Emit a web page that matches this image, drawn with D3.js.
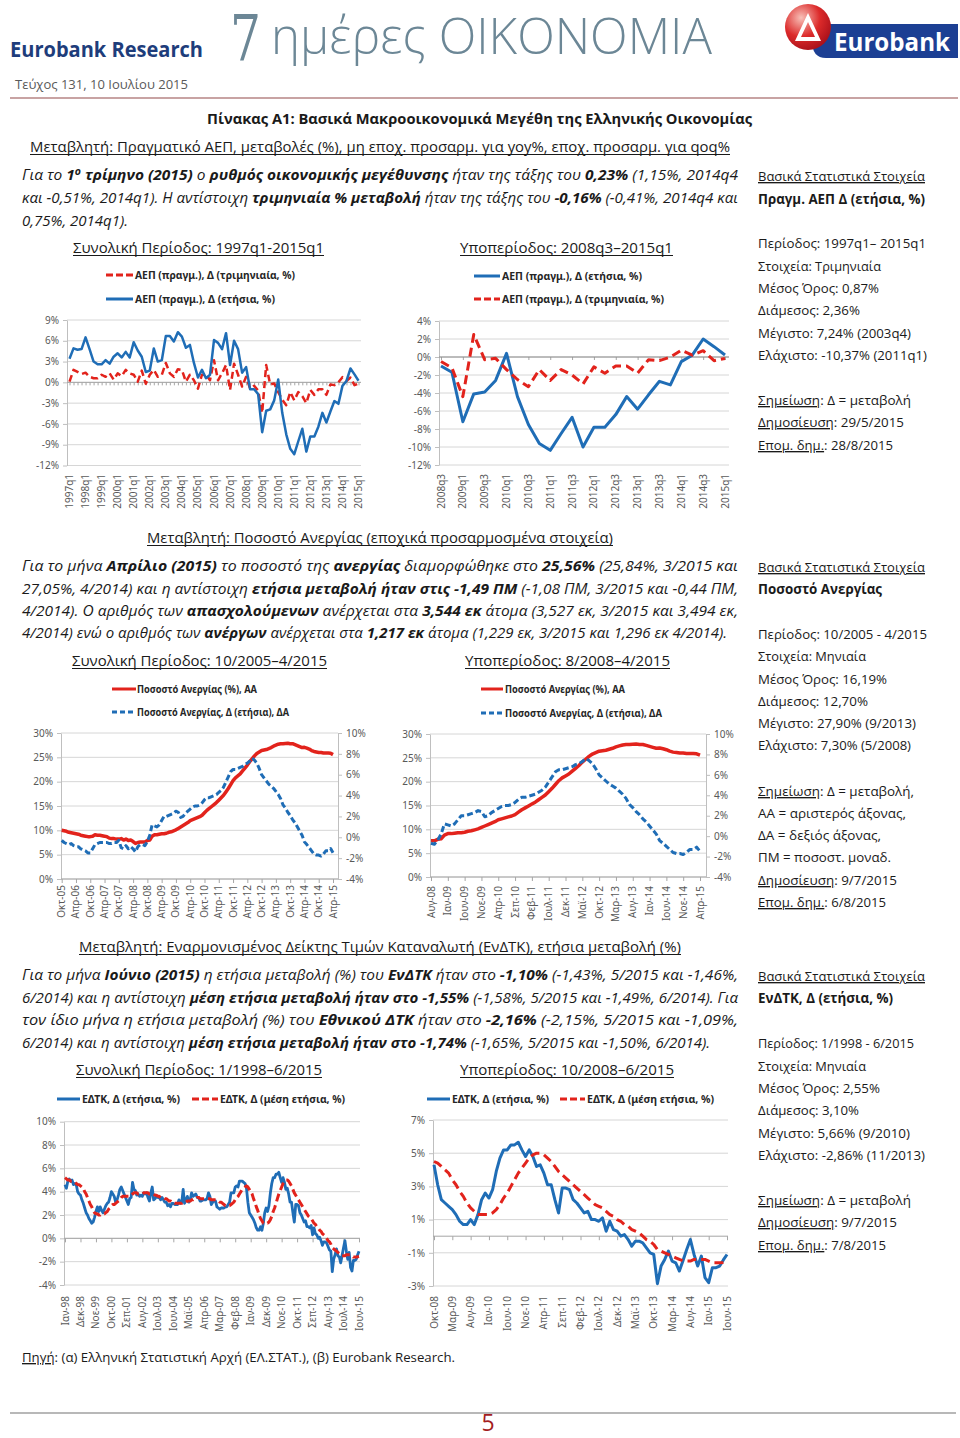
<!DOCTYPE html>
<html><head><meta charset="utf-8">
<script src="https://cdn.jsdelivr.net/npm/d3@7"></script>
<style>body{margin:0;background:#fff}svg{display:block}</style>
</head><body>
<script>
// ================= DATA =================
// Real GDP, 1997q1 - 2015q1
const gdpYoY = [
  3.4, 4.9, 4.7, 4.8,   6.5, 4.8, 3.0, 2.6,   2.6, 3.2, 2.7, 3.7,   4.2, 3.6, 4.4, 3.6,
  5.8, 4.6, 3.7, 1.5,   1.7, 4.9, 3.0, 3.2,   6.7, 6.7, 5.9, 7.24,  6.6, 5.0, 5.4, 2.8,
  0.7, 1.8, 0.6, 1.1,   6.1, 5.7, 4.8, 7.1,   2.5, 6.0, 4.8, 1.4,   2.2, -1.0, -1.0, -1.7,
  -7.2, -4.1, -3.9, -2.6,  0.4, -4.4, -7.5, -9.6,  -10.37, -8.5, -6.7, -10.0,
  -7.8, -7.8, -6.4, -4.4,  -5.8, -4.2, -2.7, -3.1,  -0.51, 0.2, 2.0, 1.15,  0.23
];
const gdpQoQ = [
  0.1, 1.8, 1.5, 1.2,   1.4, 0.8, 0.6, 0.6,   1.1, 0.8, 1.3, 0.4,   1.3, 0.9, 1.8, 1.3,
  1.1, 0.1, 1.7, -0.2,  1.1, 1.8, 0.8, 1.1,   2.8, 1.3, 0.8, 1.9,   1.8, 0.1, 1.1, 0.3,
  -0.9, 1.1, 1.1, 0.3,  3.2, 0.3, 1.3, 2.5,   -1.1, 2.7, 1.1, -0.6, 0.8, -0.9, -0.5, -1.2,
  -4.4, 2.5, -0.3, -0.15,  -1.4, -2.5, -3.3, -1.4,  -2.6, -1.4, -2.0, -3.0,
  -1.1, -1.8, -1.0, -1.0,  -1.8, -0.3, -0.4, 0.0,  0.75, 0.2, 0.7, -0.41,  -0.16
];
const gdpLabelsFull = ["1997q1","1998q1","1999q1","2000q1","2001q1","2002q1","2003q1","2004q1","2005q1","2006q1",
  "2007q1","2008q1","2009q1","2010q1","2011q1","2012q1","2013q1","2014q1","2015q1"];
const gdpLabelsSub = ["2008q3","2009q1","2009q3","2010q1","2010q3","2011q1","2011q3","2012q1","2012q3","2013q1",
  "2013q3","2014q1","2014q3","2015q1"];
const gdpTicksLeft = [9, 6, 3, 0, -3, -6, -9, -12];
const gdpTicksRight = [4, 2, 0, -2, -4, -6, -8, -10, -12];

// Unemployment, 10/2005 - 4/2015 (monthly)
const unempRate = [
  10.0, 9.9, 9.8,
  9.6, 9.5, 9.4, 9.3, 9.2, 9.0, 8.9, 8.8, 8.7, 8.7, 8.8, 9.1,
  9.0, 9.0, 8.9, 8.8, 8.7, 8.4, 8.3, 8.3, 8.2, 8.2, 8.3, 8.0,
  8.2, 7.9, 8.0, 7.7, 7.3, 7.5, 7.6, 7.6, 7.6, 7.9, 8.0, 8.8,
  9.1, 9.1, 9.2, 9.3, 9.3, 9.4, 9.6, 9.7, 9.9, 10.1, 10.4, 10.7,
  11.0, 11.3, 11.6, 12.0, 12.2, 12.4, 12.6, 12.8, 13.1, 13.6, 14.1, 14.5,
  14.9, 15.3, 15.7, 16.2, 16.7, 17.2, 17.9, 18.6, 19.4, 20.2, 20.8, 21.2,
  21.6, 22.2, 22.8, 23.4, 24.1, 24.7, 25.3, 25.8, 26.1, 26.4, 26.5, 26.6,
  26.8, 27.0, 27.3, 27.5, 27.7, 27.8, 27.8, 27.85, 27.9, 27.8, 27.8, 27.6,
  27.4, 27.2, 27.0, 27.05, 26.9, 26.7, 26.4, 26.2, 26.1, 26.0, 26.0, 25.9,
  25.9, 25.9, 25.84, 25.56
];
const unempChange = [
  -0.3, -0.5, -0.6,
  -0.7, -0.6, -0.8, -0.9, -0.9, -1.1, -1.2, -1.3, -1.5, -1.5, -1.1, -0.7,
  -0.6, -0.5, -0.5, -0.5, -0.5, -0.6, -0.6, -0.5, -0.5, -0.3, -1.0, -1.1,
  -0.8, -1.1, -0.9, -1.1, -1.4, -0.9, -0.7, -0.7, -0.8, -0.4, 0.2, 1.2,
  1.1, 1.0, 1.2, 1.6, 2.0, 2.0, 2.1, 2.2, 2.3, 2.5, 2.4, 1.9,
  2.0, 2.3, 2.5, 2.7, 2.9, 3.0, 3.0, 3.1, 3.3, 3.6, 3.8, 3.8,
  3.9, 4.0, 4.1, 4.3, 4.5, 4.8, 5.3, 5.8, 6.3, 6.5, 6.5, 6.6,
  6.7, 6.8, 7.0, 7.1, 7.3, 7.6, 7.4, 7.1, 6.6, 6.0, 5.7, 5.4,
  5.1, 4.9, 4.7, 4.4, 4.1, 3.7, 3.1, 2.8, 2.4, 2.1, 1.7, 1.4,
  1.0, 0.6, 0.2, -0.44, -0.7, -1.0, -1.3, -1.6, -1.7, -1.7, -1.8, -1.6,
  -1.3, -1.3, -1.08, -1.49
];
const unempLabelsFull = ["Οκτ-05","Απρ-06","Οκτ-06","Απρ-07","Οκτ-07","Απρ-08","Οκτ-08","Απρ-09","Οκτ-09","Απρ-10",
  "Οκτ-10","Απρ-11","Οκτ-11","Απρ-12","Οκτ-12","Απρ-13","Οκτ-13","Απρ-14","Οκτ-14","Απρ-15"];
const unempLabelsSub = ["Αυγ-08","Ιαν-09","Ιουν-09","Νοε-09","Απρ-10","Σεπ-10","Φεβ-11","Ιουλ-11","Δεκ-11","Μαϊ-12",
  "Οκτ-12","Μαρ-13","Αυγ-13","Ιαν-14","Ιουν-14","Νοε-14","Απρ-15"];
const unempTicksLeft = [0, 5, 10, 15, 20, 25, 30];
const unempTicksRight = [-4, -2, 0, 2, 4, 6, 8, 10];

// HICP, 1/1998 - 6/2015 (monthly)
const hicpYoY = [
  4.6, 4.3, 4.9, 5.1, 4.9, 5.0, 4.6, 4.7, 4.6, 4.0, 3.8, 3.7,
  3.3, 3.0, 2.6, 2.2, 2.0, 1.7, 1.5, 1.3, 1.4, 1.8, 2.3, 2.7,
  2.3, 2.7, 2.4, 2.2, 2.5, 2.8, 3.0, 3.1, 3.5, 4.0, 3.8, 3.6,
  3.1, 3.3, 3.7, 4.2, 4.4, 4.1, 3.8, 3.5, 3.2, 2.9, 3.4, 3.5,
  4.8, 4.2, 4.1, 3.7, 3.8, 3.6, 3.7, 3.6, 3.9, 3.8, 3.9, 3.5,
  3.2, 3.9, 4.4, 3.3, 3.4, 3.6, 3.5, 3.5, 3.3, 3.5, 3.3, 3.1,
  3.1, 2.8, 2.9, 2.7, 3.0, 3.0, 2.9, 2.9, 2.9, 3.3, 3.0, 3.1,
  4.2, 3.0, 3.3, 3.6, 3.1, 3.3, 3.9, 3.6, 3.7, 3.8, 3.5, 3.5,
  3.2, 3.2, 3.3, 3.3, 3.3, 3.4, 3.9, 3.6, 2.9, 3.1, 3.2, 3.2,
  2.7, 2.6, 2.5, 2.6, 2.6, 2.6, 2.7, 2.7, 2.9, 3.1, 3.9, 3.9,
  3.9, 4.4, 4.5, 4.4, 4.9, 4.9, 4.9, 4.8, 4.7, 4.3, 3.1, 2.2,
  2.0, 1.8, 1.6, 1.3, 0.9, 0.7, 0.7, 1.0, 0.7, 1.3, 2.2, 2.6,
  2.3, 2.8, 3.9, 4.7, 5.2, 5.2, 5.5, 5.5, 5.66, 5.2, 4.8, 5.2,
  4.8, 4.2, 4.3, 3.8, 3.1, 3.1, 2.2, 1.4, 2.9, 2.9, 2.8, 2.2,
  2.0, 1.7, 1.4, 1.5, 1.0, 1.0, 0.9, 1.1, 0.3, 0.9, 0.4, 0.3,
  0.0, 0.1, -0.2, -0.6, -0.3, -0.3, -0.4, -0.7, -1.0, -1.1, -2.86, -1.8,
  -1.4, -0.9, -1.5, -1.6, -2.1, -1.46, -0.8, -0.2, -1.1, -1.8, -1.2, -2.5,
  -2.8, -1.9, -1.9, -1.8, -1.43, -1.10
];
const hicpAvg = [
  5.2, 5.1, 5.0, 5.0, 4.9, 4.9, 4.8, 4.8, 4.7, 4.6, 4.6, 4.5,
  4.4, 4.3, 4.0, 3.8, 3.5, 3.2, 2.9, 2.7, 2.4, 2.2, 2.1, 2.1,
  2.0, 2.0, 2.1, 2.1, 2.1, 2.2, 2.3, 2.5, 2.6, 2.8, 2.9, 2.9,
  3.0, 3.1, 3.2, 3.3, 3.5, 3.6, 3.6, 3.6, 3.6, 3.6, 3.6, 3.7,
  3.8, 3.9, 3.9, 3.9, 3.8, 3.8, 3.8, 3.8, 3.9, 3.9, 3.9, 3.9,
  3.8, 3.8, 3.8, 3.8, 3.7, 3.7, 3.6, 3.6, 3.5, 3.5, 3.5, 3.4,
  3.4, 3.3, 3.2, 3.2, 3.1, 3.1, 3.0, 3.0, 3.0, 3.0, 3.0, 3.0,
  3.1, 3.1, 3.1, 3.2, 3.2, 3.2, 3.3, 3.3, 3.4, 3.4, 3.5, 3.5,
  3.4, 3.4, 3.4, 3.4, 3.4, 3.4, 3.4, 3.4, 3.3, 3.3, 3.3, 3.3,
  3.3, 3.2, 3.1, 3.1, 3.0, 2.9, 2.8, 2.8, 2.8, 2.8, 2.9, 3.0,
  3.1, 3.3, 3.5, 3.6, 3.8, 4.0, 4.2, 4.3, 4.4, 4.5, 4.4, 4.2,
  4.0, 3.8, 3.4, 3.1, 2.7, 2.4, 2.0, 1.7, 1.5, 1.3, 1.3, 1.3,
  1.3, 1.4, 1.6, 1.9, 2.3, 2.6, 3.0, 3.4, 3.8, 4.1, 4.4, 4.7,
  4.9, 5.0, 5.0, 4.9, 4.7, 4.5, 4.2, 3.9, 3.7, 3.5, 3.3, 3.1,
  2.9, 2.7, 2.5, 2.3, 2.1, 1.9, 1.8, 1.7, 1.5, 1.3, 1.2, 1.0,
  0.9, 0.7, 0.6, 0.4, 0.3, 0.2, 0.0, -0.2, -0.3, -0.5, -0.8, -0.9,
  -1.0, -1.1, -1.2, -1.3, -1.4, -1.49, -1.5, -1.5, -1.4, -1.4, -1.4, -1.4,
  -1.5, -1.6, -1.6, -1.6, -1.58, -1.55
];
const hicpLabelsFull = ["Ιαν-98","Δεκ-98","Νοε-99","Οκτ-00","Σεπ-01","Αυγ-02","Ιουλ-03","Ιουν-04","Μαϊ-05","Απρ-06",
  "Μαρ-07","Φεβ-08","Ιαν-09","Δεκ-09","Νοε-10","Οκτ-11","Σεπ-12","Αυγ-13","Ιουλ-14","Ιουν-15"];
const hicpLabelsSub = ["Οκτ-08","Μαρ-09","Αυγ-09","Ιαν-10","Ιουν-10","Νοε-10","Απρ-11","Σεπ-11","Φεβ-12","Ιουλ-12",
  "Δεκ-12","Μαϊ-13","Οκτ-13","Μαρ-14","Αυγ-14","Ιαν-15","Ιουν-15"];
const hicpTicksLeft = [10, 8, 6, 4, 2, 0, -2, -4];
const hicpTicksRight = [7, 5, 3, 1, -1, -3];

// ================= CATEGORIES =================
const GR_M = ["Ιαν","Φεβ","Μαρ","Απρ","Μαϊ","Ιουν","Ιουλ","Αυγ","Σεπ","Οκτ","Νοε","Δεκ"];
function monthCats(y0, m0, n) {
  const out = [];
  for (let k = 0; k < n; k++) {
    const t = m0 + k, y = y0 + Math.floor(t / 12), m = t % 12;
    out.push(GR_M[m] + "-" + String(y % 100).padStart(2, "0"));
  }
  return out;
}
const gdpCats = d3.range(gdpYoY.length).map(i => `${1997 + Math.floor(i / 4)}q${i % 4 + 1}`);
const unempCats = monthCats(2005, 9, unempRate.length);
const hicpCats = monthCats(1998, 0, hicpYoY.length);

// ================= DRAWING =================
const FONT = "'Open Sans','Noto Sans',sans-serif";
const TFONT = "'Noto Sans','Open Sans',sans-serif";
const BLUE = "#1f6db6", RED = "#e2231c", INK = "#1a1a1a";
const svg = d3.select("body").append("svg").attr("width", 960).attr("height", 1438)
  .style("font-family", FONT);

function rich(x, y, parts, o = {}) {
  const size = o.size || 14;
  const t = svg.append("text").attr("x", x).attr("y", y)
    .attr("font-size", size).attr("fill", o.fill || INK)
    .attr("font-family", o.family || FONT).style("white-space", "pre");
  if (o.len) t.attr("textLength", o.len).attr("lengthAdjust", "spacingAndGlyphs");
  if (o.anchor) t.attr("text-anchor", o.anchor);
  let undo = 0;
  parts.forEach(([s, f = ""]) => {
    const ts = t.append("tspan").text(s);
    if (f.includes("b")) ts.attr("font-weight", "bold");
    if (f.includes("i")) ts.attr("font-style", "italic");
    if (f.includes("u")) ts.style("text-decoration", "underline");
    if (f.includes("s")) { ts.attr("dy", -5).attr("font-size", size * 0.68); undo = 5; }
    else if (undo) { ts.attr("dy", undo); undo = 0; }
  });
  return t;
}
function underlined(x, y, str, size, len) {
  rich(x, y, [[str]], { size, len });
  svg.append("line").attr("x1", x).attr("x2", x + len).attr("y1", y + 2.5).attr("y2", y + 2.5)
    .attr("stroke", INK).attr("stroke-width", 1);
}

// ---------- header ----------
rich(10, 57, [["Eurobank Research", "b"]], { size: 21, fill: "#1e3d7b", len: 193 });
svg.append("text").attr("x", 230).attr("y", 60).text("7").attr("font-family", "'DejaVu Serif',serif")
  .attr("font-size", 64).attr("fill", "#6c8796").attr("textLength", 31).attr("lengthAdjust", "spacingAndGlyphs");
rich(271, 54, [["ημέρες ΟΙΚΟΝΟΜΙΑ"]], { size: 50, fill: "#6c8796", len: 441 }).attr("font-weight", 300);
// logo
const defs = svg.append("defs");
const rg = defs.append("radialGradient").attr("id", "rg").attr("cx", "35%").attr("cy", "30%").attr("r", "75%");
rg.append("stop").attr("offset", "0%").attr("stop-color", "#f8c0b8");
rg.append("stop").attr("offset", "55%").attr("stop-color", "#dc2a2a");
rg.append("stop").attr("offset", "100%").attr("stop-color", "#a8101a");
svg.append("path").attr("d", "M826,24 H958 V58 H826 Q812,58 812,41 Q812,24 826,24 Z").attr("fill", "#1c3f93");
svg.append("circle").attr("cx", 808).attr("cy", 27).attr("r", 23).attr("fill", "url(#rg)");
svg.append("path").attr("d", "M795,41 L808,13 L821,41 Z M801,37 L808,22 L815,37 Z").attr("fill", "#fff").attr("fill-rule", "evenodd");
rich(834, 51, [["Eurobank", "b"]], { size: 25, fill: "#fff", len: 116 });
rich(15, 89, [["Τεύχος 131, 10 Ιουλίου 2015"]], { size: 13, fill: "#5a5a5a", len: 173 });
svg.append("line").attr("x1", 10).attr("x2", 958).attr("y1", 98).attr("y2", 98).attr("stroke", "#c8a3a3").attr("stroke-width", 2);

// ---------- section texts ----------
rich(479.5, 124, [["Πίνακας Α1: Βασικά Μακροοικονομικά Μεγέθη της Ελληνικής Οικονομίας", "b"]], { size: 15, anchor: "middle", len: 545 });

const subtitles = [
  { x: 30, y: 152, len: 700, t: "Μεταβλητή: Πραγματικό ΑΕΠ, μεταβολές (%), μη εποχ. προσαρμ. για yoy%, εποχ. προσαρμ. για qoq%" },
  { x: 147, y: 543, len: 466, t: "Μεταβλητή: Ποσοστό Ανεργίας (εποχικά προσαρμοσμένα στοιχεία)" },
  { x: 79, y: 952, len: 602, t: "Μεταβλητή: Εναρμονισμένος Δείκτης Τιμών Καταναλωτή (ΕνΔΤΚ), ετήσια μεταβολή (%)" }
];
subtitles.forEach(s => underlined(s.x, s.y, s.t, 14.5, s.len));

const paragraphs = [
  { y: 180, len: 716, p: [["Για το ","i"],["1","bi"],["ο","bis"],[" τρίμηνο (2015)","bi"],[" ο ","i"],["ρυθμός οικονομικής μεγέθυνσης","bi"],[" ήταν της τάξης του ","i"],["0,23%","bi"],[" (1,15%, 2014q4","i"]] },
  { y: 203, len: 716, p: [["και -0,51%, 2014q1). Η αντίστοιχη ","i"],["τριμηνιαία % μεταβολή","bi"],[" ήταν της τάξης του ","i"],["-0,16%","bi"],[" (-0,41%, 2014q4 και","i"]] },
  { y: 226, len: 106, p: [["0,75%, 2014q1).","i"]] },
  { y: 571, len: 716, p: [["Για το μήνα ","i"],["Απρίλιο (2015)","bi"],[" το ποσοστό της ","i"],["ανεργίας","bi"],[" διαμορφώθηκε στο ","i"],["25,56%","bi"],[" (25,84%, 3/2015 και","i"]] },
  { y: 594, len: 716, p: [["27,05%, 4/2014) και η αντίστοιχη ","i"],["ετήσια μεταβολή ήταν στις -1,49 ΠΜ","bi"],[" (-1,08 ΠΜ, 3/2015 και -0,44 ΠΜ,","i"]] },
  { y: 616, len: 716, p: [["4/2014). Ο αριθμός των ","i"],["απασχολούμενων","bi"],[" ανέρχεται στα ","i"],["3,544 εκ","bi"],[" άτομα (3,527 εκ, 3/2015 και 3,494 εκ,","i"]] },
  { y: 638, len: 705, p: [["4/2014) ενώ ο αριθμός των ","i"],["ανέργων","bi"],[" ανέρχεται στα ","i"],["1,217 εκ","bi"],[" άτομα (1,229 εκ, 3/2015 και 1,296 εκ 4/2014).","i"]] },
  { y: 980, len: 716, p: [["Για το μήνα ","i"],["Ιούνιο (2015)","bi"],[" η ετήσια μεταβολή (%) του ","i"],["ΕνΔΤΚ","bi"],[" ήταν στο ","i"],["-1,10%","bi"],[" (-1,43%, 5/2015 και -1,46%,","i"]] },
  { y: 1003, len: 716, p: [["6/2014) και η αντίστοιχη ","i"],["μέση ετήσια μεταβολή ήταν στο -1,55%","bi"],[" (-1,58%, 5/2015 και -1,49%, 6/2014). Για","i"]] },
  { y: 1025, len: 716, p: [["τον ίδιο μήνα η ετήσια μεταβολή (%) του ","i"],["Εθνικού ΔΤΚ","bi"],[" ήταν στο ","i"],["-2,16%","bi"],[" (-2,15%, 5/2015 και -1,09%,","i"]] },
  { y: 1048, len: 688, p: [["6/2014) και η αντίστοιχη ","i"],["μέση ετήσια μεταβολή ήταν στο -1,74%","bi"],[" (-1,65%, 5/2015 και -1,50%, 6/2014).","i"]] }
];
paragraphs.forEach(l => rich(22, l.y, l.p, { size: 14.5, len: l.len }));

const chartTitles = [
  { x: 73, y: 253, len: 251, t: "Συνολική Περίοδος: 1997q1-2015q1" },
  { x: 460, y: 253, len: 213, t: "Υποπερίοδος: 2008q3–2015q1" },
  { x: 72, y: 666, len: 255, t: "Συνολική Περίοδος: 10/2005–4/2015" },
  { x: 465, y: 666, len: 205, t: "Υποπερίοδος: 8/2008–4/2015" },
  { x: 76, y: 1075, len: 246, t: "Συνολική Περίοδος: 1/1998–6/2015" },
  { x: 460, y: 1075, len: 214, t: "Υποπερίοδος: 10/2008–6/2015" }
];
chartTitles.forEach(s => underlined(s.x, s.y, s.t, 14.5, s.len));

// right column
const U = (a, b) => [[a, "u"], [b]];
const sideNotes = [
  { y: 181, len: 167, p: [["Βασικά Στατιστικά Στοιχεία", "u"]] },
  { y: 204, len: 167, p: [["Πραγμ. ΑΕΠ Δ (ετήσια, %)", "b"]] },
  { y: 248, len: 168, p: [["Περίοδος: 1997q1– 2015q1"]] },
  { y: 271, len: 123, p: [["Στοιχεία: Τριμηνιαία"]] },
  { y: 293, len: 121, p: [["Μέσος Όρος: 0,87%"]] },
  { y: 315, len: 102, p: [["Διάμεσος: 2,36%"]] },
  { y: 338, len: 153, p: [["Μέγιστο: 7,24% (2003q4)"]] },
  { y: 360, len: 169, p: [["Ελάχιστο: -10,37% (2011q1)"]] },
  { y: 405, len: 153, p: U("Σημείωση", ": Δ = μεταβολή") },
  { y: 427, len: 146, p: U("Δημοσίευση", ": 29/5/2015") },
  { y: 450, len: 135, p: U("Επομ. δημ.", ": 28/8/2015") },

  { y: 572, len: 167, p: [["Βασικά Στατιστικά Στοιχεία", "u"]] },
  { y: 594, len: 124, p: [["Ποσοστό Ανεργίας", "b"]] },
  { y: 639, len: 169, p: [["Περίοδος: 10/2005 - 4/2015"]] },
  { y: 661, len: 108, p: [["Στοιχεία: Μηνιαία"]] },
  { y: 684, len: 129, p: [["Μέσος Όρος: 16,19%"]] },
  { y: 706, len: 110, p: [["Διάμεσος: 12,70%"]] },
  { y: 728, len: 158, p: [["Μέγιστο: 27,90% (9/2013)"]] },
  { y: 750, len: 153, p: [["Ελάχιστο: 7,30% (5/2008)"]] },
  { y: 796, len: 156, p: U("Σημείωση", ": Δ = μεταβολή,") },
  { y: 818, len: 148, p: [["ΑΑ = αριστερός άξονας,"]] },
  { y: 840, len: 123, p: [["ΔΑ = δεξιός άξονας,"]] },
  { y: 862, len: 133, p: [["ΠΜ = ποσοστ. μοναδ."]] },
  { y: 885, len: 139, p: U("Δημοσίευση", ": 9/7/2015") },
  { y: 907, len: 128, p: U("Επομ. δημ.", ": 6/8/2015") },

  { y: 981, len: 167, p: [["Βασικά Στατιστικά Στοιχεία", "u"]] },
  { y: 1003, len: 135, p: [["ΕνΔΤΚ, Δ (ετήσια, %)", "b"]] },
  { y: 1048, len: 156, p: [["Περίοδος: 1/1998 - 6/2015"]] },
  { y: 1071, len: 108, p: [["Στοιχεία: Μηνιαία"]] },
  { y: 1093, len: 122, p: [["Μέσος Όρος: 2,55%"]] },
  { y: 1115, len: 101, p: [["Διάμεσος: 3,10%"]] },
  { y: 1138, len: 152, p: [["Μέγιστο: 5,66% (9/2010)"]] },
  { y: 1160, len: 167, p: [["Ελάχιστο: -2,86% (11/2013)"]] },
  { y: 1205, len: 153, p: U("Σημείωση", ": Δ = μεταβολή") },
  { y: 1227, len: 139, p: U("Δημοσίευση", ": 9/7/2015") },
  { y: 1250, len: 128, p: U("Επομ. δημ.", ": 7/8/2015") }
];
sideNotes.forEach(l => rich(758, l.y, l.p, { size: 13.5, len: l.len }));

// footer
rich(22, 1362, [["Πηγή", "u"], [": (α) Ελληνική Στατιστική Αρχή (ΕΛ.ΣΤΑΤ.), (β) Eurobank Research."]], { size: 13.5, len: 433 });
svg.append("line").attr("x1", 10).attr("x2", 956).attr("y1", 1413).attr("y2", 1413).attr("stroke", "#b8b8b8").attr("stroke-width", 2);
rich(488, 1431, [["5"]], { size: 23, fill: "#a31d22", anchor: "middle" });

// ---------- chart function ----------
function chart(o) {
  const g = svg.append("g");
  const x = d3.scalePoint().domain(o.cats).range([o.x0, o.x1]);
  const y = d3.scaleLinear().domain(o.yDomain).range([o.yBottom, o.yTop]);
  const y2 = o.y2Domain ? d3.scaleLinear().domain(o.y2Domain).range([o.yBottom, o.yTop]) : null;
  g.append("g").selectAll("line").data(o.yTicks).join("line")
    .attr("x1", o.left).attr("x2", o.right).attr("y1", d => y(d)).attr("y2", d => y(d))
    .attr("stroke", "#d6d6d6").attr("stroke-width", 1);
  const style = sel => {
    sel.select(".domain").attr("stroke", "#bfbfbf");
    sel.selectAll(".tick line").attr("stroke", "#bfbfbf");
    sel.selectAll("text").attr("fill", "#595959").attr("font-size", 10).attr("font-family", TFONT);
  };
  g.append("g").attr("transform", `translate(${o.left},0)`)
    .call(d3.axisLeft(y).tickValues(o.yTicks).tickSize(4).tickSizeOuter(0).tickPadding(4).tickFormat(d => `${d}%`))
    .call(style);
  if (y2) g.append("g").attr("transform", `translate(${o.right},0)`)
    .call(d3.axisRight(y2).tickValues(o.y2Ticks).tickSize(4).tickSizeOuter(0).tickPadding(4).tickFormat(d => `${d}%`))
    .call(style);
  const ya = o.xAxisAt === undefined ? o.yBottom : y(o.xAxisAt);
  g.append("g").attr("transform", `translate(0,${ya})`)
    .call(d3.axisBottom(x).tickValues(o.tickCats).tickSize(o.tickLen || 4).tickSizeOuter(0).tickFormat(""))
    .call(sel => { sel.select(".domain").remove(); sel.selectAll(".tick line").attr("stroke", "#a6a6a6"); });
  g.append("line").attr("x1", o.left).attr("x2", o.right).attr("y1", ya).attr("y2", ya)
    .attr("stroke", o.axisColor || "#a6a6a6");
  g.append("g").selectAll("text").data(o.xLabels).join("text")
    .attr("transform", d => `translate(${x(d)},${o.labelY}) rotate(-90)`)
    .attr("text-anchor", "end").attr("dy", "0.35em")
    .attr("font-size", 10).attr("font-family", TFONT).attr("fill", "#595959").text(d => d);
  o.series.forEach(s => {
    const sc = s.right ? y2 : y;
    g.append("path").datum(s.values)
      .attr("d", d3.line().x((d, i) => x(o.cats[i])).y(d => sc(d)))
      .attr("fill", "none").attr("stroke", s.color).attr("stroke-width", s.width)
      .attr("stroke-dasharray", s.dash || null).attr("stroke-linejoin", "round");
  });
  o.legend.forEach(l => {
    g.append("line").attr("x1", l.x1).attr("x2", l.x2).attr("y1", l.y).attr("y2", l.y)
      .attr("stroke", l.color).attr("stroke-width", 3).attr("stroke-dasharray", l.dash || null);
    g.append("text").attr("x", l.tx).attr("y", l.y + 4).text(l.text)
      .attr("font-weight", "bold").attr("font-size", 11).attr("font-family", TFONT).attr("fill", "#262626")
      .attr("textLength", l.len).attr("lengthAdjust", "spacingAndGlyphs");
  });
}

// Chart 1 left: GDP full period
chart({
  cats: gdpCats, x0: 69.5, x1: 358.5, left: 67, right: 361, yTop: 320, yBottom: 465.5,
  yDomain: [-12, 9], yTicks: gdpTicksLeft, xAxisAt: 0, tickCats: gdpCats, tickLen: 3,
  xLabels: gdpLabelsFull, labelY: 474,
  series: [
    { values: gdpQoQ, color: RED, width: 2.5, dash: "7,4" },
    { values: gdpYoY, color: BLUE, width: 2.5 }
  ],
  legend: [
    { x1: 106, x2: 133, y: 275, color: RED, dash: "7,3", tx: 135, text: "ΑΕΠ (πραγμ.), Δ (τριμηνιαία, %)", len: 160 },
    { x1: 106, x2: 133, y: 299, color: BLUE, tx: 135, text: "ΑΕΠ (πραγμ.), Δ (ετήσια, %)", len: 140 }
  ]
});
// Chart 1 right: GDP sub period
const gdpSubStart = gdpCats.indexOf("2008q3");
chart({
  cats: gdpCats.slice(gdpSubStart), x0: 441, x1: 725, left: 439, right: 729, yTop: 321, yBottom: 465,
  yDomain: [-12, 4], yTicks: gdpTicksRight, xAxisAt: 0, tickCats: gdpLabelsSub, tickLen: 3, axisColor: "#8c8c8c",
  xLabels: gdpLabelsSub, labelY: 474,
  series: [
    { values: gdpYoY.slice(gdpSubStart), color: BLUE, width: 3 },
    { values: gdpQoQ.slice(gdpSubStart), color: RED, width: 3, dash: "9,5" }
  ],
  legend: [
    { x1: 474, x2: 500, y: 276, color: BLUE, tx: 502, text: "ΑΕΠ (πραγμ.), Δ (ετήσια, %)", len: 140 },
    { x1: 474, x2: 500, y: 299, color: RED, dash: "7,3", tx: 502, text: "ΑΕΠ (πραγμ.), Δ (τριμηνιαία, %)", len: 162 }
  ]
});
// Chart 2 left: unemployment full
chart({
  cats: unempCats, x0: 61.7, x1: 333, left: 61, right: 338, yTop: 733, yBottom: 879,
  yDomain: [0, 30], yTicks: unempTicksLeft, y2Domain: [-4, 10], y2Ticks: unempTicksRight,
  tickCats: unempLabelsFull, xLabels: unempLabelsFull, labelY: 885,
  series: [
    { values: unempRate, color: RED, width: 3.5 },
    { values: unempChange, color: BLUE, width: 3, dash: "6,3", right: true }
  ],
  legend: [
    { x1: 112, x2: 136, y: 689, color: RED, tx: 137, text: "Ποσοστό Ανεργίας (%), ΑΑ", len: 120 },
    { x1: 112, x2: 136, y: 712, color: BLUE, dash: "5,3", tx: 137, text: "Ποσοστό Ανεργίας, Δ (ετήσια), ΔΑ", len: 152 }
  ]
});
// Chart 2 right: unemployment sub
const unSubStart = unempCats.indexOf("Αυγ-08");
chart({
  cats: unempCats.slice(unSubStart), x0: 431, x1: 700, left: 430, right: 706, yTop: 734, yBottom: 877,
  yDomain: [0, 30], yTicks: unempTicksLeft, y2Domain: [-4, 10], y2Ticks: unempTicksRight,
  tickCats: unempLabelsSub, xLabels: unempLabelsSub, labelY: 886,
  series: [
    { values: unempRate.slice(unSubStart), color: RED, width: 3.5 },
    { values: unempChange.slice(unSubStart), color: BLUE, width: 3, dash: "6,3", right: true }
  ],
  legend: [
    { x1: 481, x2: 503, y: 689, color: RED, tx: 505, text: "Ποσοστό Ανεργίας (%), ΑΑ", len: 120 },
    { x1: 481, x2: 503, y: 713, color: BLUE, dash: "5,3", tx: 505, text: "Ποσοστό Ανεργίας, Δ (ετήσια), ΔΑ", len: 157 }
  ]
});
// Chart 3 left: HICP full
chart({
  cats: hicpCats, x0: 65, x1: 359, left: 64, right: 360, yTop: 1121.7, yBottom: 1285,
  yDomain: [-4, 10], yTicks: hicpTicksLeft, xAxisAt: 0, tickCats: hicpLabelsFull,
  xLabels: hicpLabelsFull, labelY: 1296,
  series: [
    { values: hicpYoY, color: BLUE, width: 2.8 },
    { values: hicpAvg, color: RED, width: 3, dash: "8,4" }
  ],
  legend: [
    { x1: 57, x2: 80, y: 1099, color: BLUE, tx: 82, text: "ΕΔΤΚ, Δ (ετήσια, %)", len: 98 },
    { x1: 192, x2: 218, y: 1099, color: RED, dash: "7,3", tx: 220, text: "ΕΔΤΚ, Δ (μέση ετήσια, %)", len: 125 }
  ]
});
// Chart 3 right: HICP sub
const hiSubStart = hicpCats.indexOf("Οκτ-08");
chart({
  cats: hicpCats.slice(hiSubStart), x0: 434, x1: 727, left: 433, right: 728, yTop: 1120, yBottom: 1286,
  yDomain: [-3, 7], yTicks: hicpTicksRight, xAxisAt: 0, tickCats: hicpLabelsSub,
  xLabels: hicpLabelsSub, labelY: 1296,
  series: [
    { values: hicpYoY.slice(hiSubStart), color: BLUE, width: 3 },
    { values: hicpAvg.slice(hiSubStart), color: RED, width: 3, dash: "9,5" }
  ],
  legend: [
    { x1: 427, x2: 450, y: 1099, color: BLUE, tx: 452, text: "ΕΔΤΚ, Δ (ετήσια, %)", len: 97 },
    { x1: 560, x2: 585, y: 1099, color: RED, dash: "7,3", tx: 587, text: "ΕΔΤΚ, Δ (μέση ετήσια, %)", len: 127 }
  ]
});
</script>
</body></html>
